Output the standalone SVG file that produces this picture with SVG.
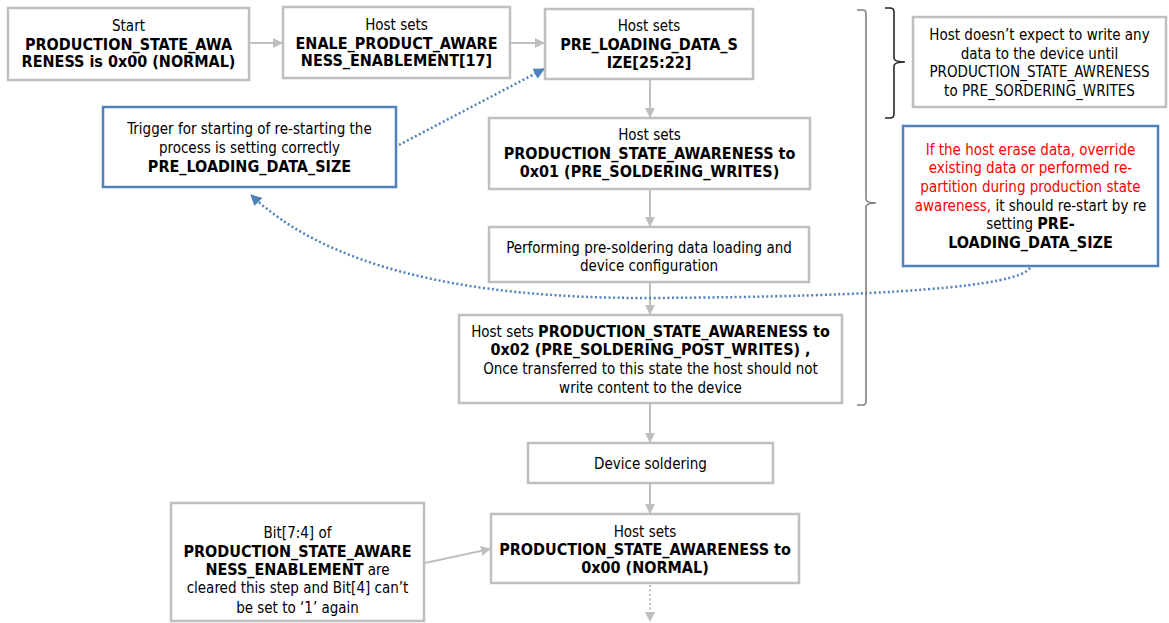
<svg xmlns="http://www.w3.org/2000/svg" width="1169" height="623" viewBox="0 0 1169 623">
<style>
.box{fill:#fff;stroke:#bfbfbf;stroke-width:2.5}
.bbox{fill:#fff;stroke:#4f81bd;stroke-width:2.5}
text{font-family:"DejaVu Sans Condensed","DejaVu Sans",sans-serif;font-size:15px;fill:#000;text-anchor:middle}
.b{font-weight:bold;font-size:16px}
.red{fill:#ff0000}
.arr{stroke:#bfbfbf;stroke-width:2;fill:none;marker-end:url(#ga)}
.dot{stroke:#4f81bd;stroke-width:2.5;fill:none;stroke-dasharray:2 2.5;marker-end:url(#ba)}
.brace{fill:none;stroke:#7f7f7f;stroke-width:1.6}
</style>
<defs>
<marker id="ga" viewBox="0 0 10 10" refX="9" refY="5" markerWidth="5" markerHeight="5" orient="auto" markerUnits="strokeWidth">
<path d="M0,0 L10,5 L0,10 z" fill="#bfbfbf"/>
</marker>
<marker id="ba" viewBox="0 0 10 10" refX="9" refY="5" markerWidth="4.5" markerHeight="4.5" orient="auto" markerUnits="strokeWidth">
<path d="M0,0 L10,5 L0,10 z" fill="#4f81bd"/>
</marker>
</defs>

<g id="connectors">
<line class="arr" x1="250" y1="43" x2="282" y2="43"/>
<line class="arr" x1="511" y1="43" x2="544" y2="43"/>
<line class="arr" x1="650" y1="80" x2="650" y2="117"/>
<line class="arr" x1="650" y1="190" x2="650" y2="226"/>
<line class="arr" x1="650" y1="283" x2="650" y2="314"/>
<line class="arr" x1="650" y1="404" x2="650" y2="442"/>
<line class="arr" x1="650" y1="484" x2="650" y2="513"/>
<line class="arr" x1="425" y1="563" x2="490" y2="549"/>
<line class="arr" x1="650" y1="585" x2="650" y2="621" style="stroke-dasharray:2 2.5"/>
<path class="dot" d="M395,147 L544,69"/>
<path class="dot" d="M1030,268 Q1010,296 650,298 Q360,299 251,195"/>
</g>

<g id="braces">
<path class="brace" d="M857,10 L863,10 Q866,10 866,14 L866,199 Q866,203 876,203 Q866,203 866,207 L866,401 Q866,405 863,405 L857,405"/>
<path class="brace" d="M885,8 L890,8 Q894,8 894,12 L894,58 Q894,62 905,62 Q894,62 894,66 L894,114 Q894,118 890,118 L885,118" style="stroke:#262626"/>
</g>

<g id="n-start">
<rect class="box" x="8" y="8" width="241" height="72"/>
<text x="128.5" y="31">Start</text>
<text class="b" x="128.5" y="50">PRODUCTION_STATE_AWA</text>
<text class="b" x="128.5" y="67">RENESS is 0x00 (NORMAL)</text>
</g>

<g id="n-enable">
<rect class="box" x="283" y="7" width="227" height="71"/>
<text x="396.5" y="30">Host sets</text>
<text class="b" x="396.5" y="49">ENALE_PRODUCT_AWARE</text>
<text class="b" x="396.5" y="66">NESS_ENABLEMENT[17]</text>
</g>

<g id="n-preload">
<rect class="box" x="545" y="9" width="208" height="70"/>
<text x="649" y="31">Host sets</text>
<text class="b" x="649" y="50">PRE_LOADING_DATA_S</text>
<text class="b" x="649" y="68">IZE[25:22]</text>
</g>

<g id="n-trigger">
<rect class="bbox" x="103" y="107" width="293" height="80"/>
<text x="249.5" y="134">Trigger for starting of re-starting the</text>
<text x="249.5" y="153">process is setting correctly</text>
<text class="b" x="249.5" y="172">PRE_LOADING_DATA_SIZE</text>
</g>

<g id="n-state01">
<rect class="box" x="489" y="118" width="321" height="71"/>
<text x="649.5" y="140">Host sets</text>
<text class="b" x="649.5" y="159">PRODUCTION_STATE_AWARENESS to</text>
<text class="b" x="649.5" y="177">0x01 (PRE_SOLDERING_WRITES)</text>
</g>

<g id="n-perform">
<rect class="box" x="489" y="227" width="320" height="55"/>
<text x="649" y="253">Performing pre-soldering data loading and</text>
<text x="649" y="271">device configuration</text>
</g>

<g id="n-state02">
<rect class="box" x="459" y="315" width="383" height="88"/>
<text x="650.5" y="337">Host sets <tspan class="b">PRODUCTION_STATE_AWARENESS to</tspan></text>
<text class="b" x="650.5" y="355">0x02 (PRE_SOLDERING_POST_WRITES) ,</text>
<text x="650.5" y="374">Once transferred to this state the host should not</text>
<text x="650.5" y="393">write content to the device</text>
</g>

<g id="n-note1">
<rect class="box" x="913" y="17" width="253" height="90"/>
<text x="1039.5" y="40">Host doesn’t expect to write any</text>
<text x="1039.5" y="59">data to the device until</text>
<text x="1039.5" y="77">PRODUCTION_STATE_AWRENESS</text>
<text x="1039.5" y="96">to PRE_SORDERING_WRITES</text>
</g>

<g id="n-note2">
<rect class="bbox" x="903" y="126" width="255" height="140"/>
<text class="red" x="1030.5" y="155">If the host erase data, override</text>
<text class="red" x="1030.5" y="173">existing data or performed re-</text>
<text class="red" x="1030.5" y="192">partition during production state</text>
<text x="1030.5" y="211"><tspan class="red">awareness,</tspan> it should re-start by re</text>
<text x="1030.5" y="229">setting <tspan class="b">PRE-</tspan></text>
<text class="b" x="1030.5" y="248">LOADING_DATA_SIZE</text>
</g>

<g id="n-solder">
<rect class="box" x="528" y="443" width="245" height="40"/>
<text x="650.5" y="469">Device soldering</text>
</g>

<g id="n-state00">
<rect class="box" x="491" y="514" width="308" height="69"/>
<text x="645" y="537">Host sets</text>
<text class="b" x="645" y="555">PRODUCTION_STATE_AWARENESS to</text>
<text class="b" x="645" y="573">0x00 (NORMAL)</text>
</g>

<g id="n-note3">
<rect class="box" x="171" y="503" width="253" height="118"/>
<text x="297.5" y="538">Bit[7:4] of</text>
<text class="b" x="297.5" y="557">PRODUCTION_STATE_AWARE</text>
<text x="297.5" y="575"><tspan class="b">NESS_ENABLEMENT</tspan> are</text>
<text x="297.5" y="593">cleared this step and Bit[4] can’t</text>
<text x="297.5" y="613">be set to ‘1’ again</text>
</g>
</svg>
